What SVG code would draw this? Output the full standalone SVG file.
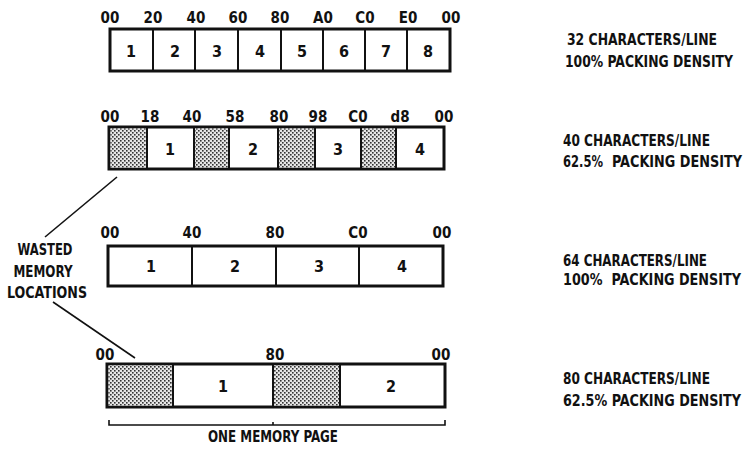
<svg xmlns="http://www.w3.org/2000/svg" width="750" height="449" viewBox="0 0 750 449">
<style>
text{font-family:"Liberation Sans Narrow","DejaVu Sans Condensed","Liberation Sans",sans-serif;font-weight:bold;fill:#111}
.hx{font-size:15px;text-anchor:middle}
.num{font-size:16px;text-anchor:middle}
.lbl{font-size:15px}
.box{fill:#fff;stroke:#111;stroke-width:3}
.div{stroke:#111;stroke-width:2}
.hat{fill:url(#dots)}
.ln{stroke:#111;stroke-width:1.6;fill:none}
</style>
<defs>
<pattern id="dots" width="4" height="4" patternUnits="userSpaceOnUse">
<rect width="4" height="4" fill="#e6e6e6"/>
<rect x="0" y="0" width="1.6" height="1.6" fill="#333"/>
<rect x="2" y="2" width="1.6" height="1.6" fill="#333"/>
</pattern>
</defs>

<g id="row1">
<rect class="box" x="110" y="29" width="340" height="42"/>
<path class="div" d="M153 29V71M195 29V71M238 29V71M281 29V71M323 29V71M365 29V71M407 29V71"/>
<text class="hx" x="110" y="23">00</text><text class="hx" x="153" y="23">20</text><text class="hx" x="196" y="23">40</text><text class="hx" x="238" y="23">60</text><text class="hx" x="280" y="23">80</text><text class="hx" x="323" y="23">A0</text><text class="hx" x="365" y="23">C0</text><text class="hx" x="408" y="23">E0</text><text class="hx" x="451" y="23">00</text>
<text class="num" x="131" y="57">1</text><text class="num" x="175" y="57">2</text><text class="num" x="217" y="57">3</text><text class="num" x="260" y="57">4</text><text class="num" x="302" y="57">5</text><text class="num" x="344" y="57">6</text><text class="num" x="386" y="57">7</text><text class="num" x="428" y="57">8</text>
<text class="lbl" x="567" y="45" textLength="150" lengthAdjust="spacingAndGlyphs">32 CHARACTERS/LINE</text>
<text class="lbl" x="565" y="67" textLength="168" lengthAdjust="spacingAndGlyphs">100% PACKING DENSITY</text>
</g>

<g id="row2">
<rect class="box" x="109" y="127" width="335" height="42"/>
<rect class="hat" x="110.5" y="128.5" width="36.5" height="39"/>
<rect class="hat" x="194" y="128.5" width="35" height="39"/>
<rect class="hat" x="278" y="128.5" width="37" height="39"/>
<rect class="hat" x="361" y="128.5" width="35" height="39"/>
<path class="div" d="M147 127V169M194 127V169M229 127V169M278 127V169M315 127V169M361 127V169M396 127V169"/>
<text class="hx" x="110" y="122">00</text><text class="hx" x="150" y="122">18</text><text class="hx" x="192" y="122">40</text><text class="hx" x="235" y="122">58</text><text class="hx" x="279" y="122">80</text><text class="hx" x="318" y="122">98</text><text class="hx" x="358" y="122">C0</text><text class="hx" x="400" y="122">d8</text><text class="hx" x="444" y="122">00</text>
<text class="num" x="170" y="155">1</text><text class="num" x="253" y="155">2</text><text class="num" x="338" y="155">3</text><text class="num" x="420" y="155">4</text>
<text class="lbl" x="563" y="146" textLength="147" lengthAdjust="spacingAndGlyphs">40 CHARACTERS/LINE</text>
<text class="lbl" x="563" y="167" textLength="40" lengthAdjust="spacingAndGlyphs">62.5%</text>
<text class="lbl" x="612" y="167" textLength="130" lengthAdjust="spacingAndGlyphs">PACKING DENSITY</text>
</g>

<g id="row3">
<rect class="box" x="108" y="246" width="335" height="40"/>
<path class="div" d="M192 246V286M276 246V286M359 246V286"/>
<text class="hx" x="110" y="238">00</text><text class="hx" x="192" y="238">40</text><text class="hx" x="275" y="238">80</text><text class="hx" x="358" y="238">C0</text><text class="hx" x="442" y="238">00</text>
<text class="num" x="151" y="272">1</text><text class="num" x="235" y="272">2</text><text class="num" x="319" y="272">3</text><text class="num" x="402" y="272">4</text>
<text class="lbl" x="563" y="266" textLength="144" lengthAdjust="spacingAndGlyphs">64 CHARACTERS/LINE</text>
<text class="lbl" x="563" y="285" textLength="178" lengthAdjust="spacingAndGlyphs" xml:space="preserve">100%  PACKING DENSITY</text>
</g>

<g id="row4">
<rect class="box" x="107" y="364" width="338" height="43"/>
<rect class="hat" x="108.5" y="365.5" width="64.5" height="40"/>
<rect class="hat" x="273" y="365.5" width="67" height="40"/>
<path class="div" d="M173 364V407M273 364V407M340 364V407"/>
<text class="hx" x="105" y="360">00</text><text class="hx" x="275" y="360">80</text><text class="hx" x="441" y="360">00</text>
<text class="num" x="223" y="392">1</text><text class="num" x="391" y="392">2</text>
<text class="lbl" x="563" y="384" textLength="147" lengthAdjust="spacingAndGlyphs">80 CHARACTERS/LINE</text>
<text class="lbl" x="563" y="406" textLength="178" lengthAdjust="spacingAndGlyphs">62.5% PACKING DENSITY</text>
</g>

<g id="wasted">
<text class="lbl" x="45" y="255" text-anchor="middle" textLength="55" lengthAdjust="spacingAndGlyphs" style="font-size:16px">WASTED</text>
<text class="lbl" x="43" y="277" text-anchor="middle" textLength="59" lengthAdjust="spacingAndGlyphs" style="font-size:16px">MEMORY</text>
<text class="lbl" x="47" y="298" text-anchor="middle" textLength="80" lengthAdjust="spacingAndGlyphs" style="font-size:16px">LOCATIONS</text>
</g>

<g id="page">
<path class="ln" d="M109 420V425H445V420M273 425V422"/>
<text class="lbl" x="273" y="442" text-anchor="middle" textLength="130" lengthAdjust="spacingAndGlyphs">ONE MEMORY PAGE</text>
</g>

<g id="connectors">
<path class="ln" d="M45 237L117 177"/>
<path class="ln" d="M53 302L135 358"/>
</g>
</svg>
